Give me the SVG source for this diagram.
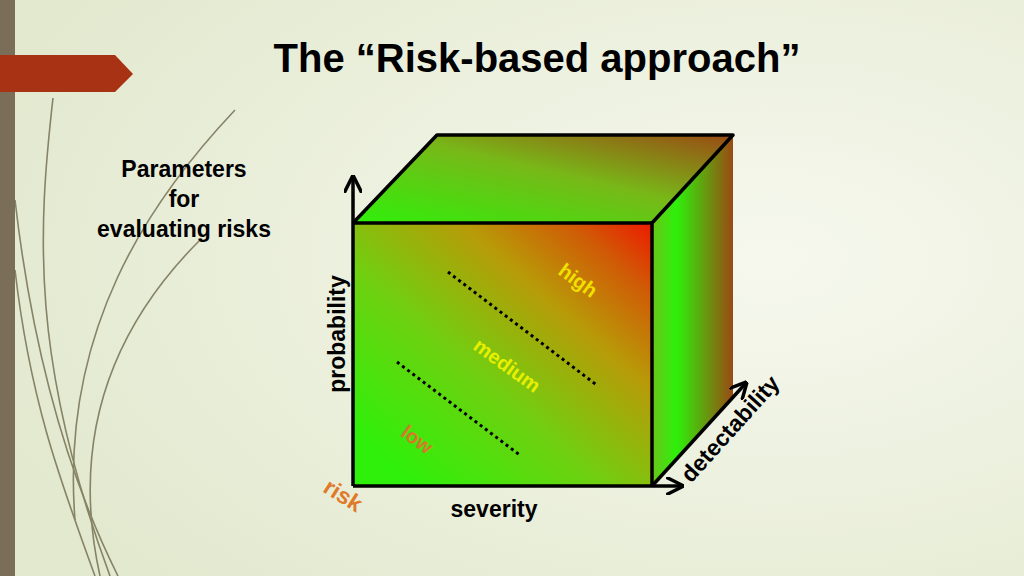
<svg xmlns="http://www.w3.org/2000/svg" width="1024" height="576" viewBox="0 0 1024 576">
<style>
.t{font-family:"Liberation Sans",Arial,sans-serif;font-weight:bold}
.edge{fill:none;stroke:#000;stroke-width:3.5;stroke-linejoin:round}
.dot{stroke:#000;stroke-width:3;stroke-dasharray:3 3.5}
.swirl{fill:none;stroke:#6f6a4c;stroke-width:1.6}
</style>
<defs>
<radialGradient id="bg" cx="0.75" cy="0.45" r="0.8"><stop offset="0" stop-color="#f6f8ee"/><stop offset="1" stop-color="#e3e9cf"/></radialGradient>
<linearGradient id="front" x1="0.1" y1="0.9" x2="1" y2="0"><stop offset="0" stop-color="#2ef00a"/><stop offset="0.35" stop-color="#6fd010"/><stop offset="0.65" stop-color="#b89a08"/><stop offset="0.85" stop-color="#d05a06"/><stop offset="1" stop-color="#ee1a00"/></linearGradient>
<linearGradient id="top" x1="0" y1="1" x2="1" y2="0"><stop offset="0" stop-color="#2ef00a"/><stop offset="0.55" stop-color="#78b818"/><stop offset="1" stop-color="#9a4a14"/></linearGradient>
<linearGradient id="side" x1="0" y1="0" x2="1" y2="0"><stop offset="0" stop-color="#6cc41a"/><stop offset="0.3" stop-color="#2ef00a"/><stop offset="1" stop-color="#9a4a14"/></linearGradient>
<marker id="ah" viewBox="0 0 10 10" refX="9" refY="5" markerWidth="5" markerHeight="5" orient="auto"><path d="M0,0 L10,5 L0,10" fill="none" stroke="#000" stroke-width="2"/></marker>
</defs>
<rect width="1024" height="576" fill="url(#bg)"/>
<rect x="0" y="0" width="15" height="576" fill="#7a6e58"/>
<path d="M0,55 H115 L133,74 L115,92 H0 Z" fill="#a83214"/>
<g opacity="0.8">
<path class="swirl" d="M53,98 C38,230 30,360 110,576"/>
<path class="swirl" d="M15,200 C30,330 60,460 118,576"/>
<path class="swirl" d="M200,240 C110,330 70,440 100,576" stroke-width="1.2"/>
<path class="swirl" d="M235,110 C150,200 60,330 75,520" stroke="#c9cfb0" stroke-width="1.2"/>
<path class="swirl" d="M15,270 C30,400 60,480 95,576" stroke="#c9cfb0" stroke-width="2"/>
</g>
<text class="t" x="537" y="72" font-size="40" text-anchor="middle">The “Risk-based approach”</text>
<g id="params" class="t" font-size="23" text-anchor="middle">
<text x="184" y="177">Parameters</text><text x="184" y="207">for</text><text x="184" y="237">evaluating risks</text>
</g>
<g id="cube">
<path d="M353,223 L437,135 H733 L652,223 Z" fill="url(#top)"/>
<path d="M652,223 L733,135 V398 L652,486 Z" fill="url(#side)"/>
<rect x="353" y="223" width="299" height="263" fill="url(#front)"/>
<path class="edge" d="M353,223 L437,135 H733 L652,223 M733,135 L652,223 M353,223 H652 V486 M353,223 V486"/>
</g>
<g id="connectors" fill="none" stroke="#000" stroke-width="3.5">
<line x1="353" y1="223" x2="353" y2="177" marker-end="url(#ah)"/>
<line x1="353" y1="486" x2="682" y2="486" marker-end="url(#ah)"/>
<line x1="652" y1="486" x2="746" y2="383" marker-end="url(#ah)"/>
<line class="dot" x1="448" y1="272" x2="598" y2="386"/>
<line class="dot" x1="397" y1="362" x2="521" y2="456"/>
</g>
<g id="labels" class="t" font-size="23">
<text transform="translate(345,334) rotate(-90)" text-anchor="middle">probability</text>
<text x="494" y="517" text-anchor="middle">severity</text>
<text transform="translate(736,434) rotate(-48)" text-anchor="middle">detectability</text>
<text transform="translate(574,286) rotate(36)" text-anchor="middle" fill="#f0e000" font-size="20">high</text>
<text transform="translate(503,371) rotate(36)" text-anchor="middle" fill="#e8f000" font-size="20">medium</text>
<text transform="translate(413,445) rotate(36)" text-anchor="middle" fill="#d77a28" font-size="20">low</text>
<text transform="translate(339,502) rotate(32)" text-anchor="middle" fill="#e07a2a" font-size="23">risk</text>
</g>
</svg>
